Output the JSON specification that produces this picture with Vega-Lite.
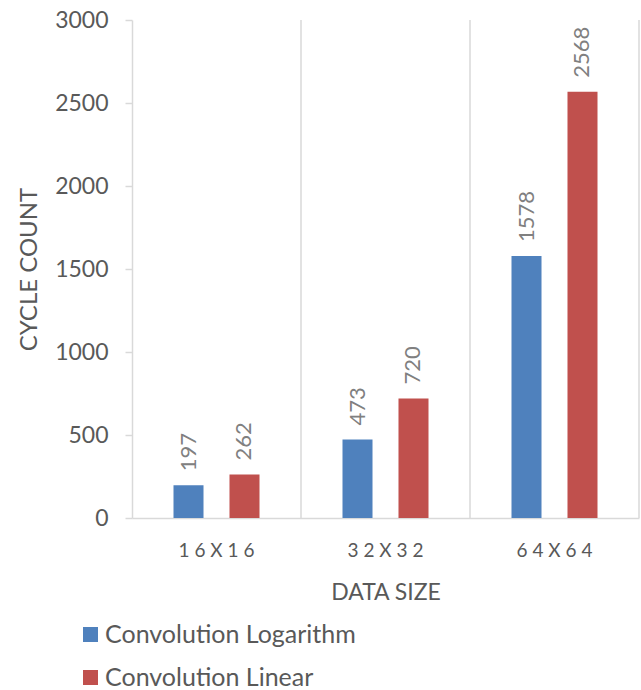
{
  "$schema": "https://vega.github.io/schema/vega-lite/v6.json",
  "width": 507,
  "height": 498,
  "autosize": {"type": "none"},
  "padding": {"left": 132, "top": 20, "right": 2, "bottom": 172},
  "config": {"view": {"stroke": null}, "font": "Lato"},
  "data": {
    "values": [
      {"size": "16X16", "series": "Convolution Logarithm", "count": 197},
      {"size": "16X16", "series": "Convolution Linear", "count": 262},
      {"size": "32X32", "series": "Convolution Logarithm", "count": 473},
      {"size": "32X32", "series": "Convolution Linear", "count": 720},
      {"size": "64X64", "series": "Convolution Logarithm", "count": 1578},
      {"size": "64X64", "series": "Convolution Linear", "count": 2568}
    ]
  },
  "layer": [
    {
      "mark": {"type": "bar"},
      "encoding": {
        "x": {"field": "size", "type": "nominal", "sort": null,
              "scale": {"paddingInner": 0, "paddingOuter": 0},
              "axis": {"title": "DATA SIZE", "labelAngle": 0, "ticks": false, "grid": false, "bandPosition": 0.5,
                       "labelAlign": "center", "labelBaseline": "top",
                       "domainColor": "#d9d9d9", "domainWidth": 1.5,
                       "labelExpr": "join(split(datum.label, ''), ' ')",
                       "labelFontSize": 19, "labelColor": "#595959", "labelPadding": 23,
                       "titleFontSize": 23, "titleFontWeight": "normal", "titleColor": "#595959", "titlePadding": 21}},
        "xOffset": {"field": "series", "sort": ["Convolution Logarithm", "Convolution Linear"],
                    "scale": {"paddingInner": 0.464, "paddingOuter": 0.741}},
        "y": {"field": "count", "type": "quantitative", "scale": {"domain": [0, 3000]},
              "axis": {"title": "CYCLE COUNT", "values": [0, 500, 1000, 1500, 2000, 2500, 3000], "grid": false, "format": "d",
                       "domainColor": "#d9d9d9", "domainWidth": 1.5, "tickColor": "#d9d9d9", "tickWidth": 1.5, "tickSize": 7,
                       "labelFontSize": 23, "labelColor": "#595959", "labelPadding": 17,
                       "titleFontSize": 24, "titleFontWeight": "normal", "titleColor": "#595959", "titlePadding": 13}},
        "color": {"field": "series", "type": "nominal", "sort": ["Convolution Logarithm", "Convolution Linear"],
                  "scale": {"range": ["#4f81bd", "#c0504d"]},
                  "legend": {"title": null, "orient": "none", "legendX": -54, "legendY": 602, "direction": "vertical",
                             "symbolType": "square", "symbolSize": 225, "symbolStrokeWidth": 0, "labelLimit": 500,
                             "labelFontSize": 25, "labelColor": "#595959", "labelOffset": 2, "rowPadding": 17}}
      }
    },
    {
      "mark": {"type": "text", "angle": -90, "align": "left", "baseline": "middle", "dx": 14, "fontSize": 22, "color": "#808080"},
      "encoding": {
        "x": {"field": "size", "type": "nominal", "sort": null},
        "xOffset": {"field": "series", "sort": ["Convolution Logarithm", "Convolution Linear"]},
        "y": {"field": "count", "type": "quantitative"},
        "text": {"field": "count", "type": "quantitative"}
      }
    },
    {
      "mark": {"type": "rule", "color": "#d9d9d9", "strokeWidth": 1.5},
      "transform": [{"filter": "datum.series == 'Convolution Linear'"}],
      "encoding": {
        "x": {"field": "size", "type": "nominal", "sort": null, "bandPosition": 1}
      }
    }
  ]
}
